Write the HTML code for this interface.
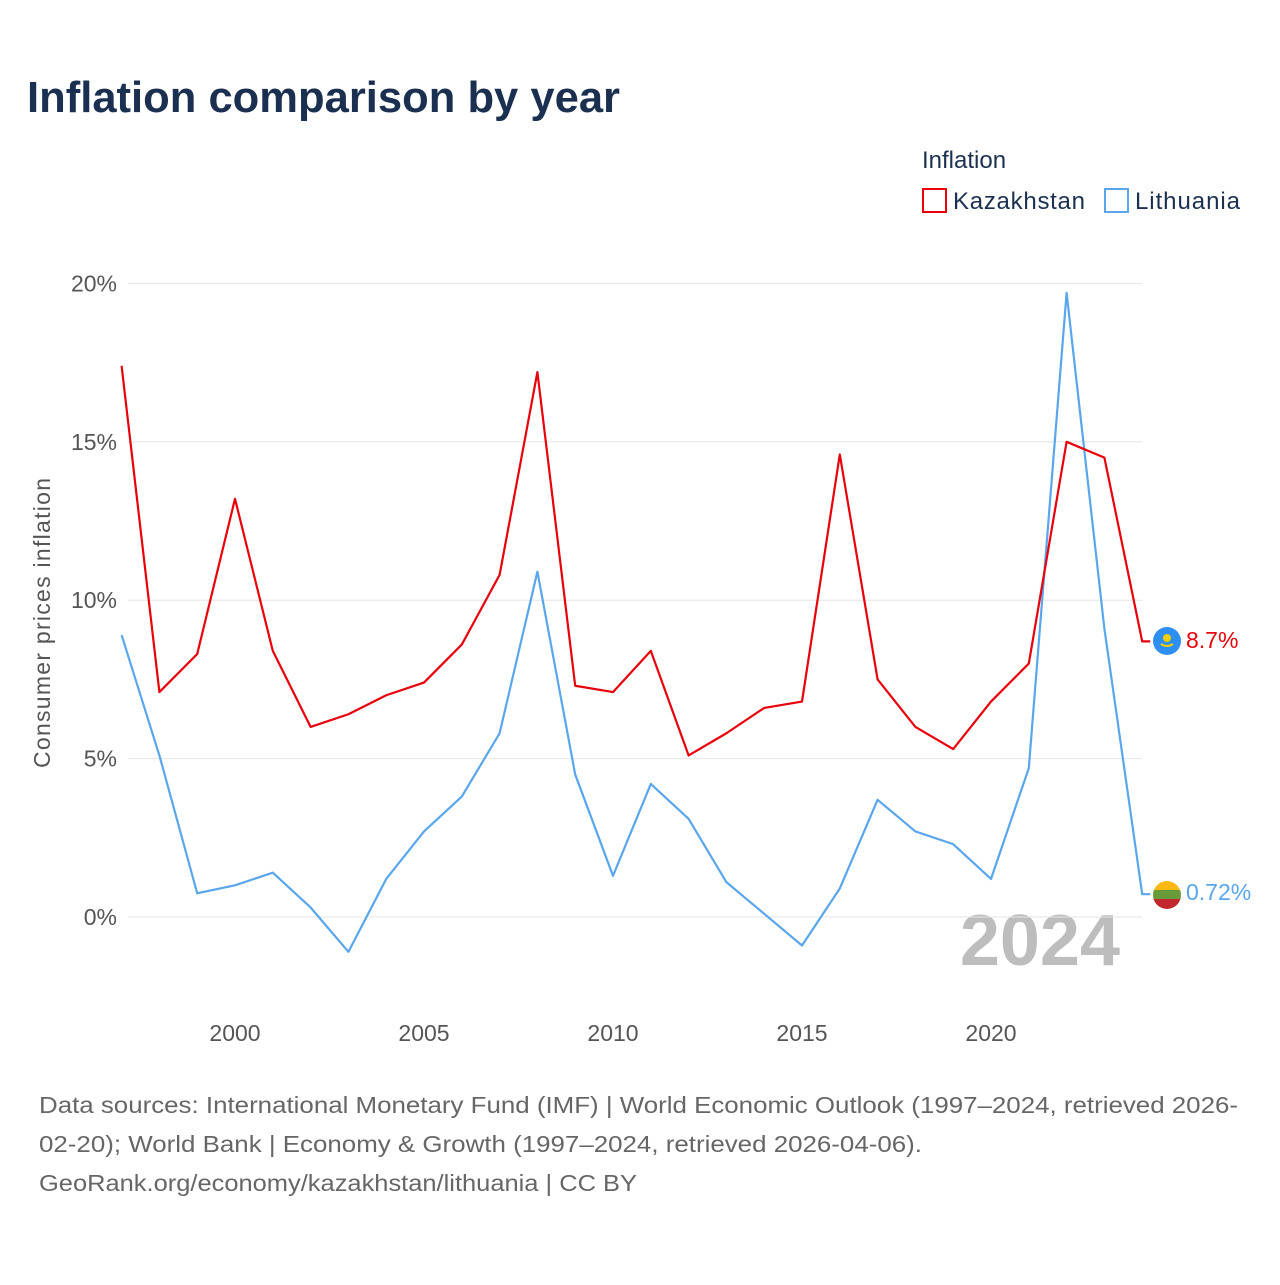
<!DOCTYPE html>
<html><head><meta charset="utf-8"><style>
body{margin:0;background:#fff;font-family:"Liberation Sans",sans-serif;}
</style></head><body>
<svg width="1280" height="1280" xmlns="http://www.w3.org/2000/svg" id="svg">
<rect width="1280" height="1280" fill="#fff"/>
<text x="27" y="112" font-size="44" font-weight="bold" fill="#1b3050" textLength="593" lengthAdjust="spacingAndGlyphs">Inflation comparison by year</text>
<text x="922" y="168" font-size="24" fill="#1b3050">Inflation</text>
<g><rect x="923" y="189" width="23" height="23" fill="none" stroke="#e8000b" stroke-width="2"/><text x="953" y="209" font-size="24" fill="#1b3050" textLength="132">Kazakhstan</text></g>
<g><rect x="1105" y="189" width="23" height="23" fill="none" stroke="#5aa6ec" stroke-width="2"/><text x="1135" y="209" font-size="24" fill="#1b3050" textLength="105">Lithuania</text></g>
<text transform="translate(50,623) rotate(-90)" text-anchor="middle" font-size="23" fill="#555" textLength="290">Consumer prices inflation</text>
<text x="1120" y="965" text-anchor="end" font-size="72" font-weight="bold" fill="#bdbdbd">2024</text>
<g id="grid"></g><g id="lines"></g>
<g><circle cx="1167" cy="641" r="14" fill="#2e8ff0"/><circle cx="1167" cy="638" r="4" fill="#f5d000"/><path d="M1161 644 q6 4 12 0" stroke="#f5d000" stroke-width="2" fill="none"/></g>
<g><clipPath id="lc"><circle cx="1167" cy="895" r="14"/></clipPath><g clip-path="url(#lc)"><rect x="1153" y="881" width="28" height="10" fill="#fdb913"/><rect x="1153" y="890" width="28" height="10" fill="#6a9b3a"/><rect x="1153" y="899" width="28" height="10" fill="#c1272d"/></g></g>
<text x="1186" y="648" font-size="23" fill="#e8000b">8.7%</text>
<text x="1186" y="900" font-size="23" fill="#5aa6ec">0.72%</text>
<g font-size="23" fill="#666">
<text x="39" y="1113" textLength="1199" lengthAdjust="spacingAndGlyphs">Data sources: International Monetary Fund (IMF) | World Economic Outlook (1997–2024, retrieved 2026-</text>
<text x="39" y="1152" textLength="883" lengthAdjust="spacingAndGlyphs">02-20); World Bank | Economy &amp; Growth (1997–2024, retrieved 2026-04-06).</text>
<text x="39" y="1191" textLength="598" lengthAdjust="spacingAndGlyphs">GeoRank.org/economy/kazakhstan/lithuania | CC BY</text>
</g>
</svg>
<script>
const years=[1997,1998,1999,2000,2001,2002,2003,2004,2005,2006,2007,2008,2009,2010,2011,2012,2013,2014,2015,2016,2017,2018,2019,2020,2021,2022,2023,2024];
const kazakhstan=[17.4,7.1,8.3,13.2,8.4,6.0,6.4,7.0,7.4,8.6,10.8,17.2,7.3,7.1,8.4,5.1,5.8,6.6,6.8,14.6,7.5,6.0,5.3,6.8,8.0,15.0,14.5,8.7];
const lithuania=[8.9,5.1,0.75,1.0,1.4,0.3,-1.1,1.2,2.7,3.8,5.8,10.9,4.5,1.3,4.2,3.1,1.1,0.1,-0.9,0.9,3.7,2.7,2.3,1.2,4.7,19.7,9.1,0.72];
const yTicks=[0,5,10,15,20];
const xTicks=[2000,2005,2010,2015,2020];
const NS="http://www.w3.org/2000/svg";
const X=y=>235+(y-2000)*37.8;
const Y=v=>917-v*31.68;
const grid=document.getElementById('grid'),lines=document.getElementById('lines');
function mk(t,a,p){const e=document.createElementNS(NS,t);for(const k in a)e.setAttribute(k,a[k]);p.appendChild(e);return e;}
yTicks.forEach(v=>{
 const l=mk('line',{x1:128,x2:1142,y1:Y(v),y2:Y(v),stroke:'#e6e6e6','stroke-width':1},grid);
 
 
 const t=mk('text',{x:117,y:Y(v)+8,'text-anchor':'end','font-size':23,fill:'#555'},grid);
 t.textContent=v+'%';
 
 
});
xTicks.forEach(v=>{
 const t=mk('text',{x:X(v),y:1041,'text-anchor':'middle','font-size':23,fill:'#555'},grid);
 t.textContent=v;
 
 
});
function series(d,c,n){
 const pts=d.map((v,i)=>X(years[i])+','+Y(v));
 const last=d[d.length-1];
 const p=mk('polyline',{points:pts.join(' ')+' '+(X(years[years.length-1])+8)+','+Y(last),fill:'none',stroke:c,'stroke-width':2.2,'stroke-linejoin':'round'},lines);
 
 
}
series(lithuania,'#5aa6ec','lithuania-line');
series(kazakhstan,'#e8000b','kazakhstan-line');
</script>
</body></html>
